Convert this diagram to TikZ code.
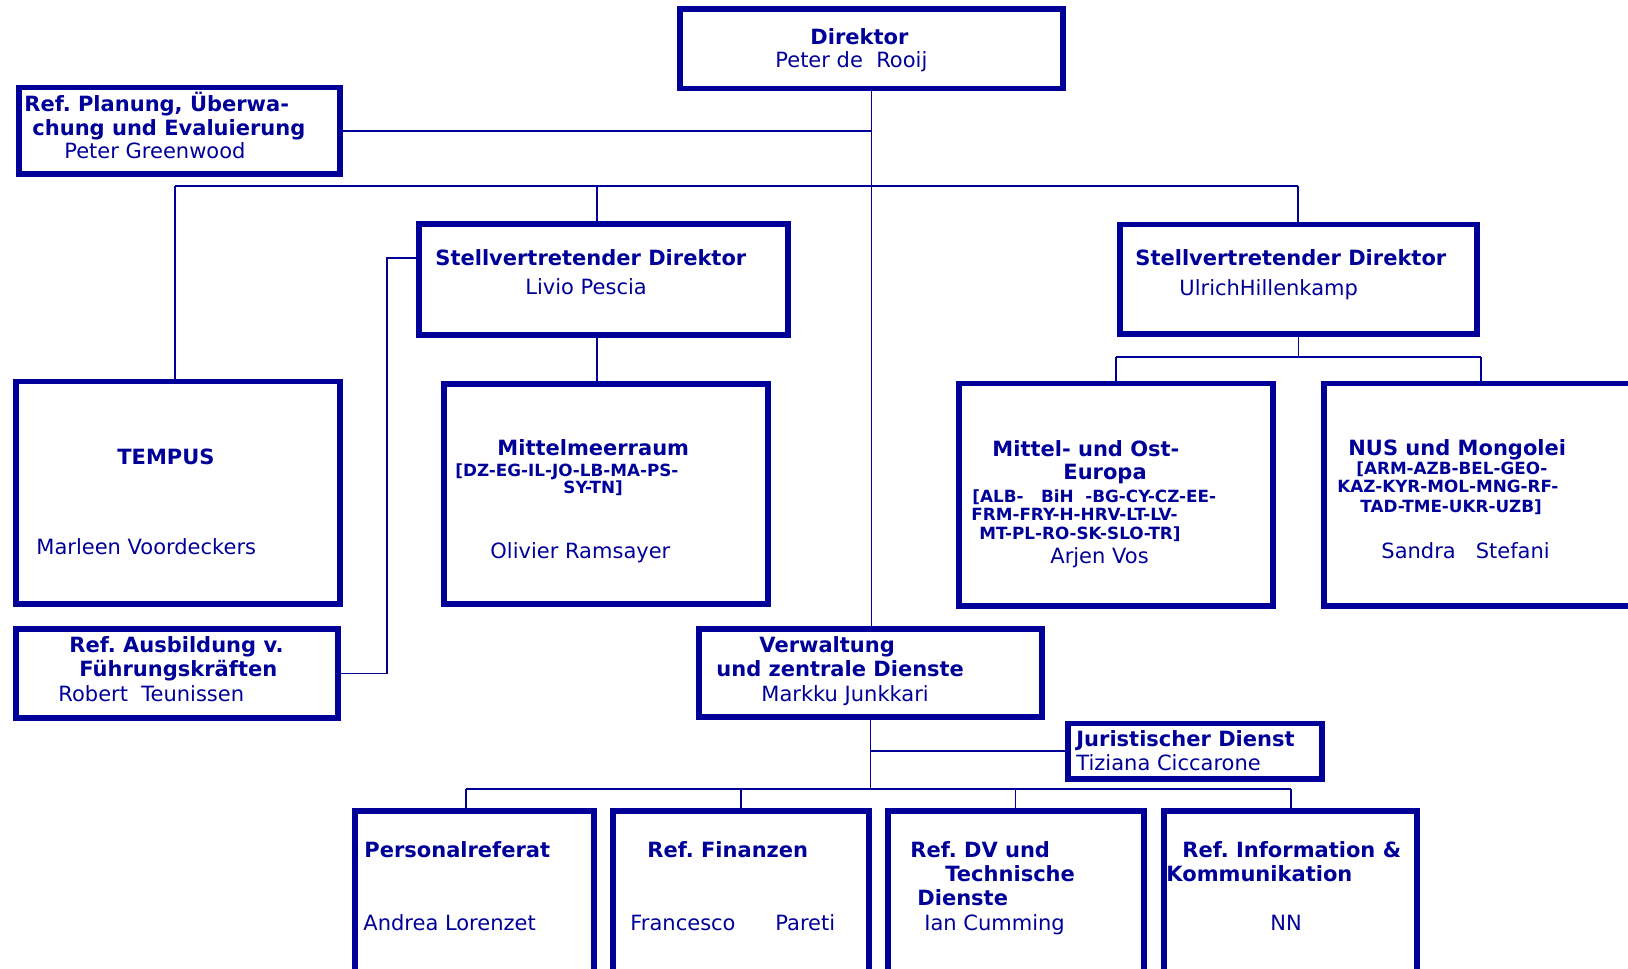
\documentclass[tikz,border=0pt]{standalone}
\usepackage{fontspec}
\setmainfont{DejaVu Sans}
\usetikzlibrary{fit}
\frenchspacing

\definecolor{orgblue}{RGB}{0,0,153}

\tikzset{
	orgbox/.style = {draw = orgblue, line width = 2.7pt, inner sep = 0pt},
	conn/.style = {draw = orgblue, line width = 0.9pt},
	txt/.style = {text = orgblue, anchor = base west, inner sep = 0pt, font = \fontsize{10.5}{12}\selectfont},
	hd/.style = {txt, font = \fontsize{10.5}{12}\selectfont\bfseries},
	cc/.style = {txt, font = \fontsize{8.4}{9}\selectfont\bfseries}
}

\begin{document}
\begin{tikzpicture}[x = 0.5pt, y = -0.5pt]

	% Frame

	\clip (0, 0) rectangle (1628, 969);

	% Boxes

	\node [orgbox, fit = {(680, 9) (1063, 88.5)}] (dir) {};
	\node [orgbox, fit = {(19, 87.5) (340, 174)}] (plan) {};
	\node [orgbox, fit = {(419, 224) (788, 335)}] (stv1) {};
	\node [orgbox, fit = {(1120, 224.5) (1477, 334)}] (stv2) {};
	\node [orgbox, fit = {(16, 381.5) (340, 604)}] (tempus) {};
	\node [orgbox, fit = {(444, 384) (768, 604)}] (mittel) {};
	\node [orgbox, fit = {(959, 383.5) (1273, 606)}] (moe) {};
	\node [orgbox, fit = {(1324, 383.5) (1660, 606)}] (nus) {};
	\node [orgbox, fit = {(16, 629) (338, 718)}] (ausb) {};
	\node [orgbox, fit = {(699, 629) (1042, 717)}] (verw) {};
	\node [orgbox, fit = {(1068, 723.5) (1322, 779)}] (jur) {};
	\node [orgbox, fit = {(355, 811) (594, 995)}] (pers) {};
	\node [orgbox, fit = {(613, 811) (869, 995)}] (fin) {};
	\node [orgbox, fit = {(888, 811) (1144, 995)}] (dv) {};
	\node [orgbox, fit = {(1164, 811) (1417, 995)}] (info) {};

	% Branch points

	\coordinate (barl) at (175, 186);
	\coordinate (barm) at (597, 186);
	\coordinate (barr) at (1298, 186);
	\coordinate (subl) at (1116, 357);
	\coordinate (subr) at (1481, 357);
	\coordinate (ausbk) at (387, 258);
	\coordinate (botl) at (466, 789);
	\coordinate (botm) at (741, 789);
	\coordinate (botn) at (1015.5, 789);
	\coordinate (botr) at (1291, 789);

	% Connectors

	\draw [conn] (dir.south) -- (dir.south |- verw.north);
	\draw [conn] (plan.east) -- (plan.east -| dir.south);
	\draw [conn] (barl) -- (barr);
	\draw [conn] (barl) -- (barl |- tempus.north);
	\draw [conn] (barm) -- (barm |- stv1.north);
	\draw [conn] (barr) -- (barr |- stv2.north);
	\draw [conn] (barm |- stv1.south) -- (barm |- mittel.north);
	\draw [conn] (stv2.south) -- (stv2.south |- subl);
	\draw [conn] (subl) -- (subr);
	\draw [conn] (subl) -- (subl |- moe.north);
	\draw [conn] (subr) -- (subr |- nus.north);
	\draw [conn] (ausbk -| stv1.west) -- (ausbk) -- (ausbk |- ausb.east) -- (ausb.east);
	\draw [conn] (verw.south) -- (verw.south |- botl);
	\draw [conn] (verw.south |- jur.west) -- (jur.west);
	\draw [conn] (botl) -- (botr);
	\draw [conn] (botl) -- (botl |- pers.north);
	\draw [conn] (botm) -- (botm |- fin.north);
	\draw [conn] (botn) -- (botn |- dv.north);
	\draw [conn] (botr) -- (botr |- info.north);

	% Texts

	\node [hd] (dir-a) at (810, 44) {Direktor};
	\node [txt] (dir-b) at (775, 68) {Peter de\ \ Rooij};

	\node [hd] (plan-a) at (24, 111) {Ref. Planung, Überwa-};
	\node [hd] (plan-b) at (32, 135) {chung und Evaluierung};
	\node [txt] (plan-c) at (64, 158) {Peter Greenwood};

	\node [hd] (stv1-a) at (435, 265) {Stellvertretender Direktor};
	\node [txt] (stv1-b) at (525, 294) {Livio Pescia};

	\node [hd] (stv2-a) at (1135, 265) {Stellvertretender Direktor};
	\node [txt] (stv2-b) at (1179, 295) {UlrichHillenkamp};

	\node [hd] (tempus-a) at (117, 464) {TEMPUS};
	\node [txt] (tempus-b) at (36, 554) {Marleen Voordeckers};

	\node [hd] (mittel-a) at (497, 455) {Mittelmeerraum};
	\node [cc] (mittel-b) at (455, 476) {[DZ-EG-IL-JO-LB-MA-PS-};
	\node [cc] (mittel-c) at (563, 493) {SY-TN]};
	\node [txt] (mittel-d) at (490, 558) {Olivier Ramsayer};

	\node [hd] (moe-a) at (992, 456) {Mittel- und Ost-};
	\node [hd] (moe-b) at (1063, 479) {Europa};
	\node [cc] (moe-c) at (972, 502) {[ALB-\ \ \ BiH\ \ -BG-CY-CZ-EE-};
	\node [cc] (moe-d) at (971, 520) {FRM-FRY-H-HRV-LT-LV-};
	\node [cc] (moe-e) at (979, 539) {MT-PL-RO-SK-SLO-TR]};
	\node [txt] (moe-f) at (1050, 563) {Arjen Vos};

	\node [hd] (nus-a) at (1348, 455) {NUS und Mongolei};
	\node [cc] (nus-b) at (1356, 474) {[ARM-AZB-BEL-GEO-};
	\node [cc] (nus-c) at (1337, 492) {KAZ-KYR-MOL-MNG-RF-};
	\node [cc] (nus-d) at (1360, 512) {TAD-TME-UKR-UZB]};
	\node [txt] (nus-e) at (1381, 558) {Sandra\ \ \ Stefani};

	\node [hd] (ausb-a) at (69, 652) {Ref. Ausbildung v.};
	\node [hd] (ausb-b) at (79, 676) {Führungskräften};
	\node [txt] (ausb-c) at (58, 701) {Robert\ \ Teunissen};

	\node [hd] (verw-a) at (759, 652) {Verwaltung};
	\node [hd] (verw-b) at (716, 676) {und zentrale Dienste};
	\node [txt] (verw-c) at (761, 701) {Markku Junkkari};

	\node [hd] (jur-a) at (1076, 746) {Juristischer Dienst};
	\node [txt] (jur-b) at (1076, 770) {Tiziana Ciccarone};

	\node [hd] (pers-a) at (364, 857) {Personalreferat};
	\node [txt] (pers-b) at (363, 930) {Andrea Lorenzet};

	\node [hd] (fin-a) at (647, 857) {Ref. Finanzen};
	\node [txt] (fin-b) at (630, 930) {Francesco};
	\node [txt] (fin-c) at (775, 930) {Pareti};

	\node [hd] (dv-a) at (910, 857) {Ref. DV und};
	\node [hd] (dv-b) at (945, 881) {Technische};
	\node [hd] (dv-c) at (917, 905) {Dienste};
	\node [txt] (dv-d) at (924, 930) {Ian Cumming};

	\node [hd] (info-a) at (1182, 857) {Ref. Information \&};
	\node [hd] (info-b) at (1166, 881) {Kommunikation};
	\node [txt] (info-c) at (1270, 930) {NN};

\end{tikzpicture}
\end{document}
